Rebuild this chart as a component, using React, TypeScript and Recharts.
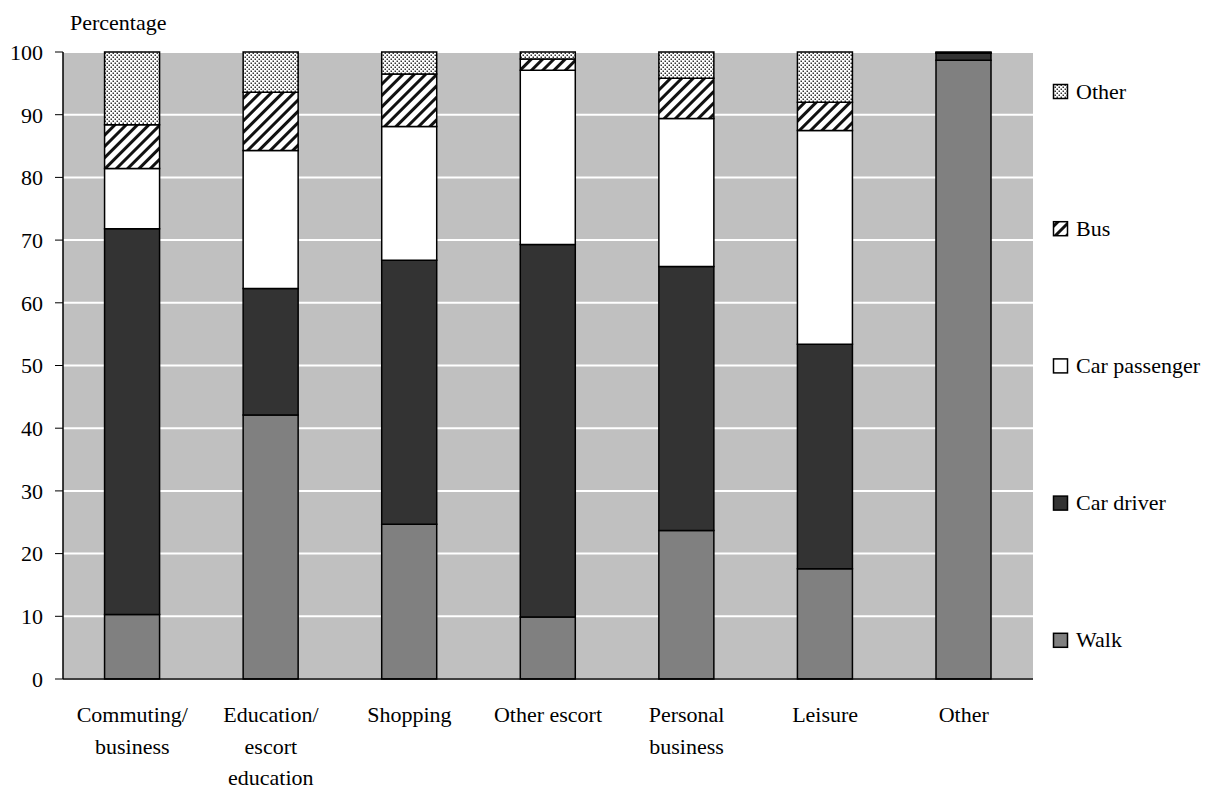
import { BarChart, Bar, XAxis, YAxis, CartesianGrid } from 'recharts'

const FONT = '"Liberation Serif", "Times New Roman", serif'

const categories = [
  'Commuting/\nbusiness',
  'Education/\nescort\neducation',
  'Shopping',
  'Other escort',
  'Personal\nbusiness',
  'Leisure',
  'Other',
]

// share of trips by main mode, per cent
const walk         = [10.3, 42.1, 24.7,  9.9, 23.7, 17.6, 98.7]
const carDriver    = [61.5, 20.2, 42.1, 59.4, 42.1, 35.8,  1.1]
const carPassenger = [ 9.6, 22.0, 21.3, 27.8, 23.6, 34.1,  0.1]
const bus          = [ 7.0,  9.3,  8.4,  1.8,  6.4,  4.5,  0.1]
const other        = [11.6,  6.4,  3.5,  1.1,  4.2,  8.0,  0.0]

const yTicks = [0, 10, 20, 30, 40, 50, 60, 70, 80, 90, 100]

const series = [
  { key: 'walk',         name: 'Walk',          fill: '#808080' },
  { key: 'carDriver',    name: 'Car driver',    fill: '#333333' },
  { key: 'carPassenger', name: 'Car passenger', fill: '#ffffff' },
  { key: 'bus',          name: 'Bus',           fill: 'url(#busHatch)' },
  { key: 'other',        name: 'Other',         fill: 'url(#otherDots)' },
]

const data = categories.map((cat, i) => ({
  cat,
  walk: walk[i],
  carDriver: carDriver[i],
  carPassenger: carPassenger[i],
  bus: bus[i],
  other: other[i],
}))

function CategoryTick({ x, y, payload }: any) {
  const lines = String(payload.value).split('\n')
  return (
    <text x={x} y={y + 43} textAnchor="middle" fontFamily={FONT} fontSize={22} fill="#000">
      {lines.map((line, i) => (
        <tspan key={i} x={x} dy={i === 0 ? 0 : 31.5}>{line}</tspan>
      ))}
    </text>
  )
}

function Patterns() {
  return (
    <svg width={0} height={0} style={{ position: 'absolute' }}>
      <defs>
        <pattern id="busHatch" patternUnits="userSpaceOnUse" width={8} height={8} patternTransform="rotate(45)">
          <rect width={8} height={8} fill="#fff" />
          <rect width={3} height={8} fill="#111" />
        </pattern>
        <pattern id="otherDots" patternUnits="userSpaceOnUse" width={4} height={4}>
          <rect width={4} height={4} fill="#fff" />
          <rect x={0.5} y={0.5} width={1.5} height={1.5} fill="#333" />
          <rect x={2.5} y={2.5} width={1.5} height={1.5} fill="#333" />
        </pattern>
      </defs>
    </svg>
  )
}

function ModeLegend() {
  const items = [...series].reverse()
  return (
    <svg width={178} height={792} style={{ position: 'absolute', left: 1040, top: 0 }}>
      {items.map((s, i) => {
        const base = 98.5 + i * 137.2
        return (
          <g key={s.key}>
            <rect x={13.5} y={base - 14} width={14} height={14} fill={s.fill} stroke="#000" strokeWidth={1.5} />
            <text x={36} y={base} fontFamily={FONT} fontSize={22} fill="#000">{s.name}</text>
          </g>
        )
      })}
    </svg>
  )
}

export default function App() {
  return (
    <div style={{ position: 'absolute', left: 0, top: 0, width: 1218, height: 792, background: '#fff' }}>
      <Patterns />
      <BarChart
        width={1218}
        height={792}
        data={data}
        margin={{ top: 52, right: 185, bottom: 0, left: 0 }}
        barCategoryGap="30%"
      >
        <CartesianGrid vertical={false} stroke="#fff" strokeWidth={2} fill="#c0c0c0" />
        <XAxis
          dataKey="cat"
          height={113}
          tickLine={false}
          tickSize={0}
          tickMargin={0}
          interval={0}
          axisLine={{ stroke: '#000', strokeWidth: 1.5 }}
          tick={<CategoryTick />}
        />
        <XAxis
          xAxisId="top"
          dataKey="cat"
          orientation="top"
          height={0}
          tick={false}
          tickLine={false}
          axisLine={{ stroke: '#808080', strokeWidth: 1.5 }}
        />
        <YAxis
          domain={[0, 100]}
          ticks={yTicks}
          width={63}
          tickSize={8}
          tickMargin={12}
          interval={0}
          axisLine={{ stroke: '#000', strokeWidth: 1.5 }}
          tickLine={{ stroke: '#000' }}
          tick={{ fill: '#000', fontSize: 22, fontFamily: FONT }}
          label={{
            content: () => (
              <text x={70} y={29.5} fontFamily={FONT} fontSize={22} fill="#000">Percentage</text>
            ),
          }}
        />
        <YAxis
          yAxisId="right"
          orientation="right"
          domain={[0, 100]}
          width={0}
          tick={false}
          tickLine={false}
          axisLine={{ stroke: '#808080', strokeWidth: 1.5 }}
        />
        {series.map(s => (
          <Bar
            key={s.key}
            dataKey={s.key}
            name={s.name}
            stackId="mode"
            fill={s.fill}
            stroke="#000"
            strokeWidth={1.5}
            isAnimationActive={false}
          />
        ))}
      </BarChart>
      <ModeLegend />
    </div>
  )
}
